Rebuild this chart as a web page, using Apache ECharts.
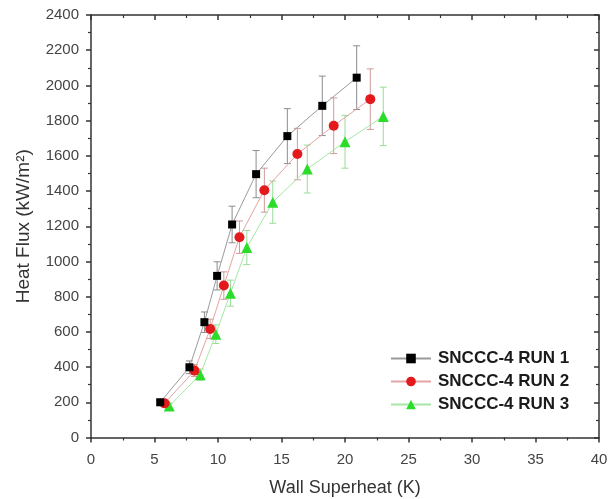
<!DOCTYPE html>
<html>
<head>
<meta charset="utf-8">
<script src="https://cdn.jsdelivr.net/npm/echarts@6/dist/echarts.min.js"></script>
<style>html,body{margin:0;padding:0;background:#fff}#c{width:614px;height:499px}</style>
</head>
<body>
<div id="c"></div>
<script>
var seriesNames = ['SNCCC-4 RUN 1', 'SNCCC-4 RUN 2', 'SNCCC-4 RUN 3'];

var run1X = [5.45, 7.75, 8.93, 9.93, 11.11, 13.0, 15.46, 18.21, 20.92];
var run1Y = [200, 399, 655, 918, 1210, 1496, 1712, 1884, 2044];
var run1Err = [18, 36, 58, 80, 104, 134, 156, 169, 181];

var run2X = [5.79, 8.15, 9.38, 10.46, 11.69, 13.65, 16.25, 19.11, 21.99];
var run2Y = [194, 380, 617, 863, 1138, 1405, 1610, 1771, 1922];
var run2Err = [17, 34, 55, 78, 92, 125, 146, 158, 172];

var run3X = [6.16, 8.6, 9.83, 10.98, 12.27, 14.31, 17.03, 20.0, 23.01];
var run3Y = [179, 357, 587, 820, 1079, 1337, 1525, 1680, 1824];
var run3Err = [16, 32, 53, 74, 97, 120, 136, 150, 166];

var xTicks = [0, 5, 10, 15, 20, 25, 30, 35, 40];
var yTicks = [0, 200, 400, 600, 800, 1000, 1200, 1400, 1600, 1800, 2000, 2200, 2400];

function pts(xs, ys) { return xs.map(function (x, i) { return [x, ys[i]]; }); }
function errs(xs, ys, es) { return xs.map(function (x, i) { return [x, ys[i] - es[i], ys[i] + es[i]]; }); }

function errRenderer(color) {
  return function (params, api) {
    var x = api.value(0), lo = api.value(1), hi = api.value(2);
    var p1 = api.coord([x, hi]), p2 = api.coord([x, lo]);
    var w = 3.5;
    var st = { stroke: color, lineWidth: 1 };
    return {
      type: 'group', children: [
        { type: 'line', shape: { x1: p1[0], y1: p1[1], x2: p2[0], y2: p2[1] }, style: st },
        { type: 'line', shape: { x1: p1[0] - w, y1: p1[1], x2: p1[0] + w, y2: p1[1] }, style: st },
        { type: 'line', shape: { x1: p2[0] - w, y1: p2[1], x2: p2[0] + w, y2: p2[1] }, style: st }
      ]
    };
  };
}

var font = 'Liberation Sans, Arial, sans-serif';
var axisLineStyle = { color: '#333', width: 1.5 };

var chart = echarts.init(document.getElementById('c'), null, { renderer: 'canvas' });
chart.setOption({
  animation: false,
  backgroundColor: '#fff',
  grid: { left: 91, right: 15, top: 15, bottom: 61.5, containLabel: false, outerBoundsMode: 'none' },
  legend: {
    orient: 'vertical', left: 385, top: 345,
    itemWidth: 40, itemHeight: 12, itemGap: 6,
    data: seriesNames,
    textStyle: { fontFamily: font, fontSize: 17, fontWeight: 'bold', color: '#1a1a1a', padding: [0, 0, 0, 2] }
  },
  xAxis: [{
    type: 'value', min: 0, max: 40, interval: 5,
    name: 'Wall Superheat (K)', nameLocation: 'middle', nameGap: 42,
    nameTextStyle: { fontFamily: font, fontSize: 18, color: '#333' },
    axisLine: { onZero: false, lineStyle: axisLineStyle },
    axisTick: { show: true, inside: false, length: 5, lineStyle: { color: '#333', width: 1.5 } },
    minorTick: { show: true, splitNumber: 2, length: 3, lineStyle: { color: '#333', width: 1.2 } },
    axisLabel: { fontFamily: font, fontSize: 15, color: '#444', margin: 15,
      formatter: function (v) { return xTicks.indexOf(v) >= 0 ? String(v) : ''; } },
    splitLine: { show: false }
  }, {
    type: 'value', min: 0, max: 40, interval: 5, position: 'top',
    axisLine: { onZero: false, lineStyle: axisLineStyle },
    axisTick: { show: true, inside: true, length: 5, lineStyle: { color: '#333', width: 1.5 } },
    minorTick: { show: true, splitNumber: 2, length: 3, lineStyle: { color: '#333', width: 1.2 } },
    axisLabel: { show: false }, splitLine: { show: false }
  }],
  yAxis: [{
    type: 'value', min: 0, max: 2400, interval: 200,
    name: 'Heat Flux (kW/m\u00b2)', nameLocation: 'middle', nameGap: 58,
    nameTextStyle: { fontFamily: font, fontSize: 19, color: '#333' },
    axisLine: { show: true, onZero: false, lineStyle: axisLineStyle },
    axisTick: { show: true, inside: false, length: 5, lineStyle: { color: '#333', width: 1.5 } },
    minorTick: { show: true, splitNumber: 2, length: 3, lineStyle: { color: '#333', width: 1.2 } },
    axisLabel: { fontFamily: font, fontSize: 15, color: '#444', margin: 12,
      formatter: function (v) { return yTicks.indexOf(v) >= 0 ? String(v) : ''; } },
    splitLine: { show: false }
  }, {
    type: 'value', min: 0, max: 2400, interval: 200, position: 'right',
    axisLine: { show: true, onZero: false, lineStyle: axisLineStyle },
    axisTick: { show: true, inside: true, length: 5, lineStyle: { color: '#333', width: 1.5 } },
    minorTick: { show: true, splitNumber: 2, length: 3, lineStyle: { color: '#333', width: 1.2 } },
    axisLabel: { show: false }, splitLine: { show: false }
  }],
  series: [
    { type: 'custom', xAxisIndex: 0, yAxisIndex: 0, data: errs(run1X, run1Y, run1Err),
      encode: { x: 0, y: [1, 2] }, renderItem: errRenderer('#8c8c8c'), z: 1, silent: true },
    { type: 'custom', xAxisIndex: 0, yAxisIndex: 0, data: errs(run2X, run2Y, run2Err),
      encode: { x: 0, y: [1, 2] }, renderItem: errRenderer('#cf9a9a'), z: 1, silent: true },
    { type: 'custom', xAxisIndex: 0, yAxisIndex: 0, data: errs(run3X, run3Y, run3Err),
      encode: { x: 0, y: [1, 2] }, renderItem: errRenderer('#98dc98'), z: 1, silent: true },
    { name: seriesNames[0], type: 'line', data: pts(run1X, run1Y), symbol: 'rect', symbolSize: 8,
      itemStyle: { color: '#000' }, lineStyle: { color: '#9a9a9a', width: 1 }, z: 5 },
    { name: seriesNames[1], type: 'line', data: pts(run2X, run2Y), symbol: 'circle', symbolSize: 10,
      itemStyle: { color: '#e3191c' }, lineStyle: { color: '#e6a3a3', width: 1 }, z: 4 },
    { name: seriesNames[2], type: 'line', data: pts(run3X, run3Y), symbol: 'triangle', symbolSize: 11,
      itemStyle: { color: '#2bdc2b' }, lineStyle: { color: '#a6e6a6', width: 1 }, z: 3 }
  ]
});
</script>
</body>
</html>
